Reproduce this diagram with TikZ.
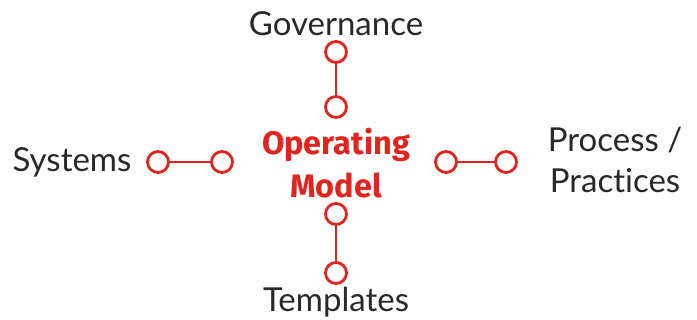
\documentclass[tikz,border=0pt]{standalone}
\usepackage{fontspec}
\setmainfont{Lato}[Ligatures={NoCommon}]
\newfontfamily\boldfont{Fira Sans}[Ligatures={NoCommon}]
\usepackage{tikz}
\usetikzlibrary{positioning}

\definecolor{opred}{RGB}{226,35,30}
\definecolor{labelgray}{RGB}{40,40,40}

\begin{document}
\begin{tikzpicture}[x=1pt,y=-1pt,
    knob/.style={circle,draw=opred,line width=2.8pt,minimum size=21pt,inner sep=0pt},
    link/.style={draw=opred,line width=2.8pt},
    label text/.style={text=labelgray,font=\fontsize{33}{41}\selectfont,inner sep=0pt,align=center},
    core/.style={text=opred,font=\boldfont\bfseries\fontsize{32.5}{43}\selectfont,inner sep=0pt,align=center}]
    \useasboundingbox (0,0) rectangle (697,320);
    % centre
    \node [core] (model) at (336,163) {Operating\\Model};
    % top
    \node [knob] (gov1) at (336,52) {};
    \node [knob] (gov2) at (336,107) {};
    \node [label text] (gov) at (336,24) {Governance};
    \draw [link] (gov1) -- (gov2);
    % bottom
    \node [knob] (tem1) at (336,214) {};
    \node [knob] (tem2) at (336,273) {};
    \node [label text] (tem) at (336,302) {Templates};
    \draw [link] (tem1) -- (tem2);
    % left
    \node [knob] (sys1) at (158,162) {};
    \node [knob] (sys2) at (222,162) {};
    \node [label text] (sys) at (72,162) {Systems};
    \draw [link] (sys1) -- (sys2);
    % right
    \node [knob] (pro1) at (446,162) {};
    \node [knob] (pro2) at (506,162) {};
    \node [label text] (pro) at (615,160) {Process /\\Practices};
    \draw [link] (pro1) -- (pro2);
\end{tikzpicture}
\end{document}
